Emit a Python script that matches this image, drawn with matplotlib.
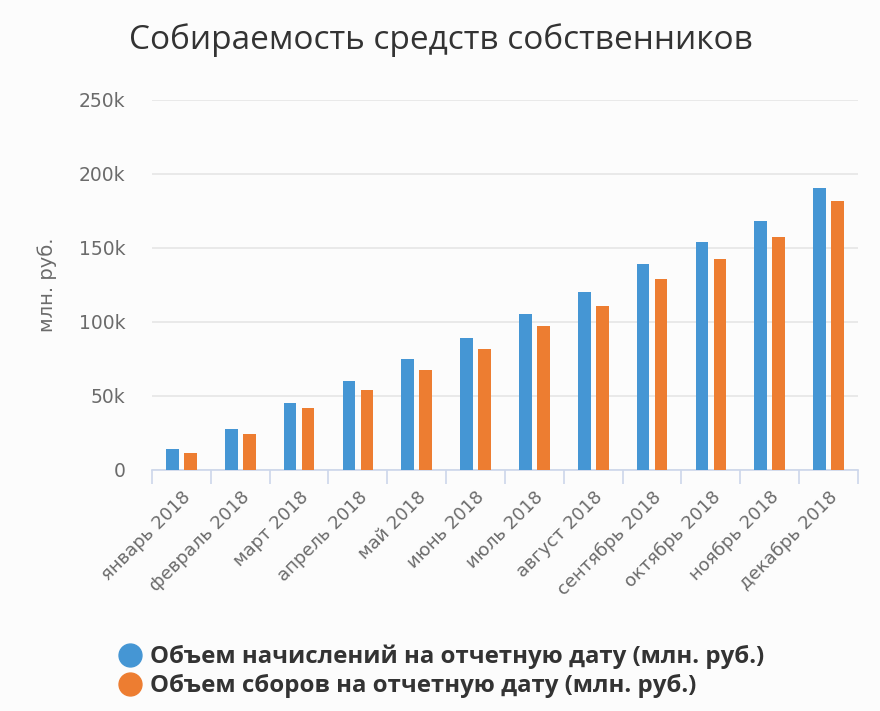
import matplotlib.pyplot as plt
import numpy as np
from matplotlib.lines import Line2D

months = ['январь 2018', 'февраль 2018', 'март 2018', 'апрель 2018', 'май 2018',
          'июнь 2018', 'июль 2018', 'август 2018', 'сентябрь 2018', 'октябрь 2018',
          'ноябрь 2018', 'декабрь 2018']
accrued = [14.4, 27.9, 45.0, 60.0, 74.8, 89.4, 105.6, 120.0, 139.0, 153.8, 168.5, 190.5]
collected = [11.7, 24.3, 41.7, 53.8, 67.3, 82.0, 97.0, 110.6, 129.0, 142.6, 157.4, 182.0]
yticks = [0, 50, 100, 150, 200, 250]
ytick_labels = ['0', '50k', '100k', '150k', '200k', '250k']

series_names = ['Объем начислений на отчетную дату (млн. руб.)',
                'Объем сборов на отчетную дату (млн. руб.)']
clr = ('#4596d4', '#ed7d31')
bg = '#fcfcfc'

plt.rcParams['font.family'] = ['DejaVu Sans']

fig = plt.figure(figsize=(8.8, 7.11), dpi=100, facecolor=bg)
ax = fig.add_axes([0.1727, 0.339, 0.8023, 0.5204], facecolor=bg)

x = np.arange(len(months))
w = 0.216
ax.bar(x - 0.153, accrued, width=w, color=clr[0], zorder=3)
ax.bar(x + 0.153, collected, width=w, color=clr[1], zorder=3)

ax.set_xlim(-0.5, len(months) - 0.5)
ax.set_ylim(0, 250)
ax.set_yticks(yticks)
ax.set_yticklabels(ytick_labels)
ax.yaxis.grid(True, color='#e6e6e6', linewidth=1.2, zorder=0)
ax.tick_params(axis='y', length=0, pad=19, labelsize=13.5, labelcolor='#6b6b6b')

# category ticks at boundaries, highcharts-like
ax.set_xticks(np.arange(-0.5, len(months) + 0.5, 1), minor=False)
ax.set_xticklabels([])
ax.tick_params(axis='x', which='major', length=10, width=1.2, color='#ccd6eb')
ax.set_xticks(x, minor=True)
ax.set_xticklabels(months, minor=True, rotation=45, ha='right', rotation_mode='anchor')
ax.tick_params(axis='x', which='minor', length=0, pad=13, labelsize=13, labelcolor='#6b6b6b')

for sp in ['top', 'right', 'left']:
    ax.spines[sp].set_visible(False)
ax.spines['bottom'].set_color('#ccd6eb')
ax.spines['bottom'].set_linewidth(1.2)

ax.set_ylabel('млн. руб.', fontsize=14, color='#6b6b6b', labelpad=16)

fig.text(0.501, 0.944, 'Собираемость средств собственников', ha='center', va='center',
         fontsize=24, color='#333333', family=['Open Sans', 'DejaVu Sans'])

handles = [Line2D([], [], marker='o', linestyle='', markersize=16.5, color=c) for c in clr]
fig.legend(handles, series_names, loc='upper left', bbox_to_anchor=(0.108, 0.124),
           frameon=False, handletextpad=0.3, labelspacing=0.22, handlelength=1.1,
           prop={'family': ['Open Sans', 'DejaVu Sans'], 'weight': 'bold', 'size': 17.3},
           labelcolor='#333333')

fig.savefig('out.png', dpi=100, facecolor=bg)
